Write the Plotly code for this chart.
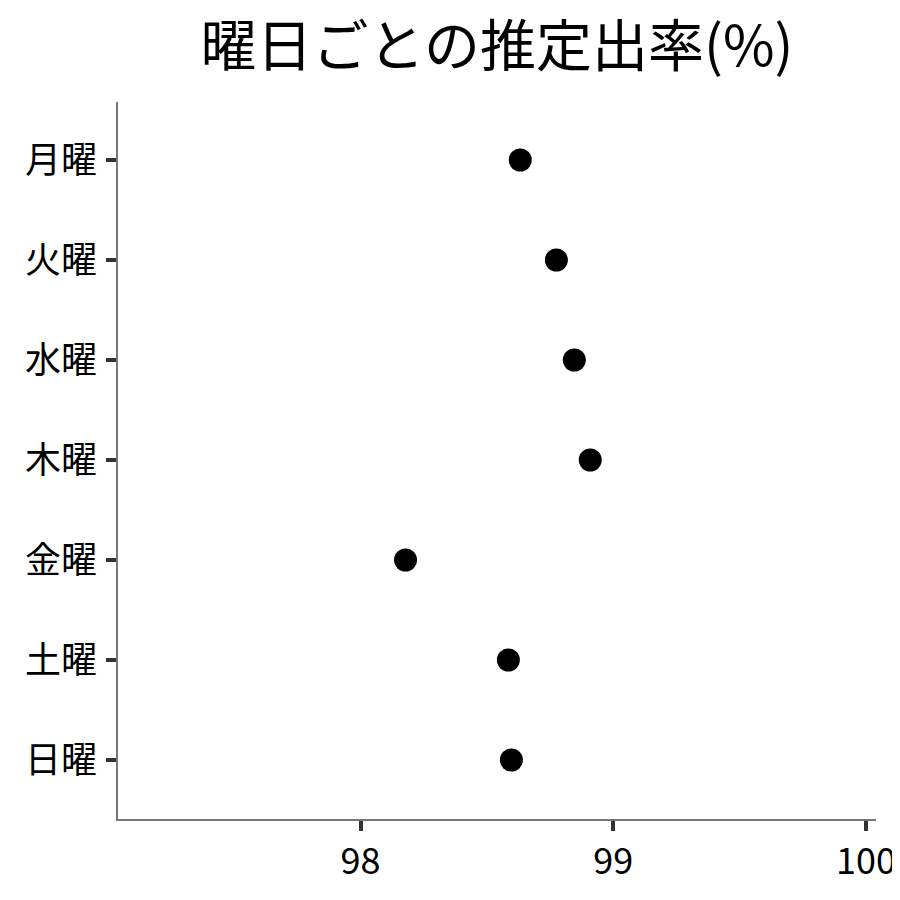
import plotly.graph_objects as go

# estimated rate per weekday (%)
days = ['月曜', '火曜', '水曜', '木曜', '金曜', '土曜', '日曜']
rates = [98.632, 98.775, 98.846, 98.909, 98.178, 98.585, 98.597]
x_ticks = [98, 99, 100]

fnt = 'Noto Sans CJK JP'

fig = go.Figure()
fig.add_trace(go.Scatter(x=rates, y=days, mode='markers',
                         marker=dict(color='black', size=23),
                         showlegend=False))

fig.update_layout(
    width=900, height=900,
    paper_bgcolor='white', plot_bgcolor='white',
    margin=dict(l=110, r=32, t=94, b=89),
    font=dict(family=fnt, color='black'),
    title=dict(text='曜日ごとの推定出率(%)', x=0.5, xref='paper',
               y=1 - 38/900, yref='container', yanchor='middle',
               font=dict(size=56, family=fnt, color='black')),
)

fig.update_xaxes(range=[97.04, 100.04], tickvals=x_ticks,
                 ticktext=[str(v) for v in x_ticks],
                 showgrid=False, zeroline=False,
                 showline=True, linecolor='#777', linewidth=1.5,
                 ticks='outside', ticklen=10, tickwidth=4, tickcolor='#333',
                 tickfont=dict(size=36, family=fnt, color='black'))
fig.update_yaxes(type='category', categoryorder='array', categoryarray=days,
                 range=[6.59, -0.58], showgrid=False, zeroline=False,
                 showline=True, linecolor='#777', linewidth=1.5,
                 ticks='outside', ticklen=10, tickwidth=4, tickcolor='#333',
                 ticklabelstandoff=2,
                 tickfont=dict(size=36, family=fnt, color='black'))

fig.write_html("out.html")
